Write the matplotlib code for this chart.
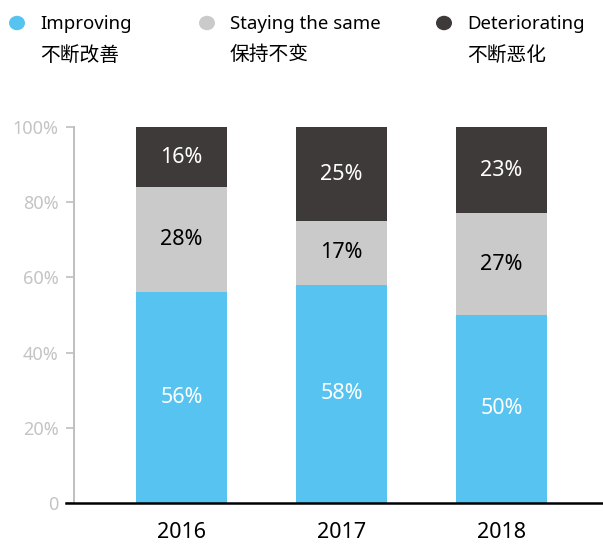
import matplotlib
matplotlib.use("Agg")
import matplotlib.pyplot as plt
from matplotlib.patches import Circle

plt.rcParams['font.family'] = ['Noto Sans', 'Noto Sans CJK SC', 'DejaVu Sans']

years = ["2016", "2017", "2018"]
improving = [56, 58, 50]
same = [28, 17, 27]
deteriorating = [16, 25, 23]
series_names = ["Improving", "Staying the same", "Deteriorating"]
series_cn = ["不断改善", "保持不变", "不断恶化"]
colors = ["#56C3F0", "#C9CAC9", "#3E3A39"]
label_colors = ["white", "black", "white"]
yticks = [0, 20, 40, 60, 80, 100]
ytick_labels = ["0", "20%", "40%", "60%", "80%", "100%"]

W, H = 603, 544
fig = plt.figure(figsize=(W / 100, H / 100), dpi=100)
left_px, right_px, bottom_px, top_px = 74, 603, 503, 127
ax = fig.add_axes([left_px / W, (H - bottom_px) / H, (right_px - left_px) / W, (bottom_px - top_px) / H])

x = list(range(len(years)))
width = 91 / 160
bottoms = [0] * len(years)
for vals, col, lc in zip([improving, same, deteriorating], colors, label_colors):
    ax.bar(x, vals, width=width, bottom=bottoms, color=col, linewidth=0, clip_on=False)
    for xi, v, b in zip(x, vals, bottoms):
        ax.text(xi, b + v / 2, f"{v}%", ha="center", va="center", color=lc, fontsize=15.5)
    bottoms = [b + v for b, v in zip(bottoms, vals)]

ax.set_xlim((74 - 181.5) / 160, (603 - 181.5) / 160)
ax.set_ylim(0, 100)

for s in ["top", "right"]:
    ax.spines[s].set_visible(False)
ax.spines["bottom"].set_visible(False)
ax.spines["left"].set_color("#BFBFBF")
ax.spines["left"].set_linewidth(1.4)
ax.axhline(0, xmin=-8 / 529, xmax=1, color="black", lw=1.8, clip_on=False, zorder=5)

ax.set_yticks(yticks)
ax.set_yticklabels(ytick_labels)
ax.tick_params(axis="y", length=6, width=1.2, color="#BFBFBF", labelcolor="#C4C4C4", labelsize=13, pad=5)
ax.set_xticks(x)
ax.set_xticklabels(years)
ax.tick_params(axis="x", length=0, labelsize=15.5, labelcolor="black", pad=14)

# legend
leg_x_circle = [17, 207, 444]
leg_x_text = [40, 230, 467]
for cx, tx, name, cn, col in zip(leg_x_circle, leg_x_text, series_names, series_cn, colors):
    fig.patches.append(Circle((cx / W, 1 - 23 / H), 8 / W, transform=fig.transFigure,
                              facecolor=col, edgecolor="none"))
    fig.text(tx / W, 1 - 24 / H, name, ha="left", va="center", fontsize=13.4, color="black")
    fig.text(tx / W, 1 - 55 / H, cn, ha="left", va="center", fontsize=14.2, color="black",
             family=["Noto Sans CJK SC", "DejaVu Sans"])

fig.savefig("out.png", dpi=100)
